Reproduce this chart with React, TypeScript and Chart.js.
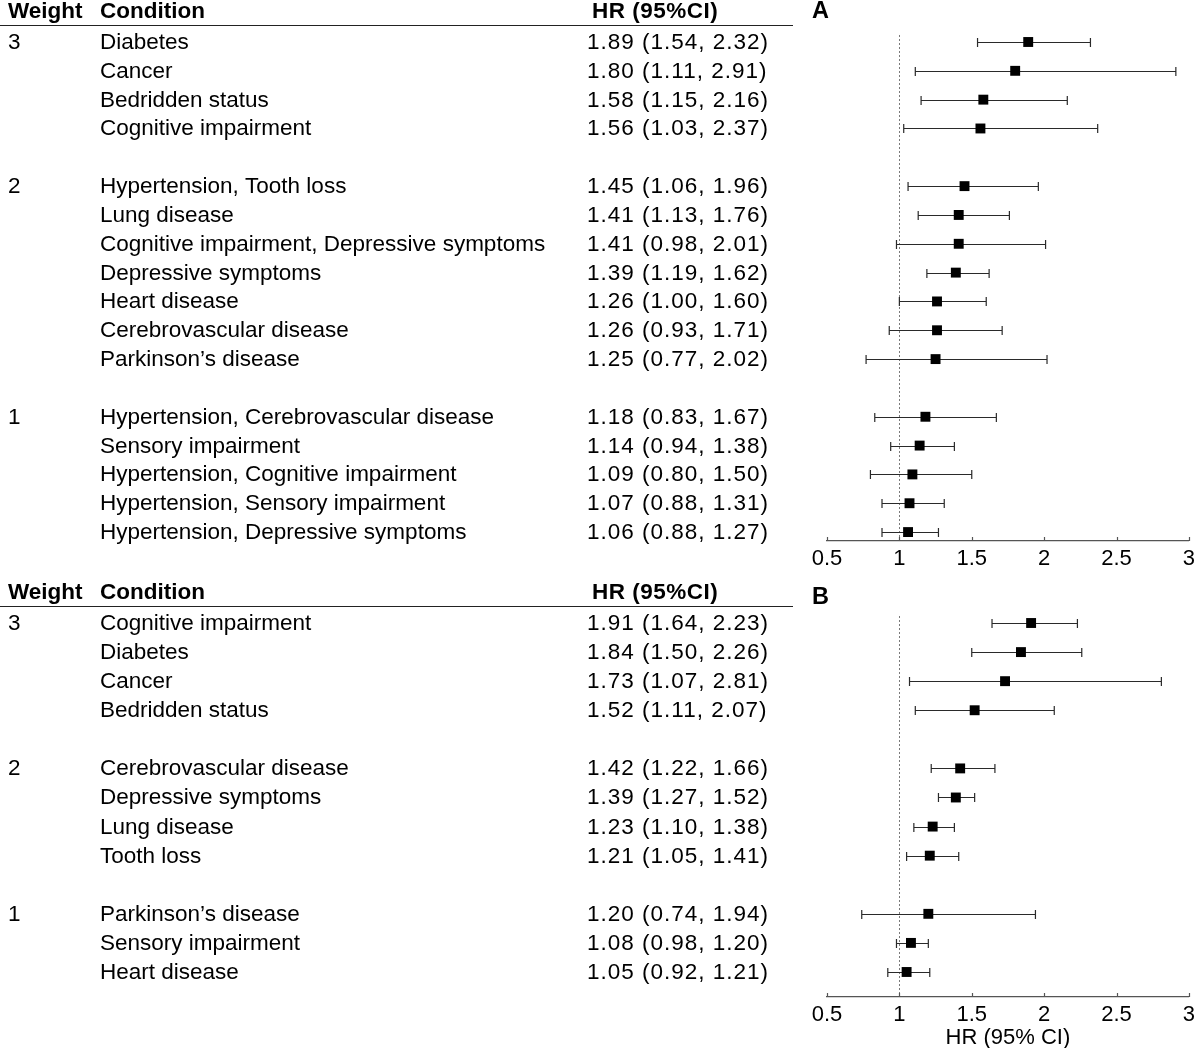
import React, { useEffect, useRef } from "react";
import { Chart, registerables } from "chart.js";

Chart.register(...registerables);

// ---------- Panel A data ----------
const conditionsA = [
  "Diabetes",
  "Cancer",
  "Bedridden status",
  "Cognitive impairment",
  "Hypertension, Tooth loss",
  "Lung disease",
  "Cognitive impairment, Depressive symptoms",
  "Depressive symptoms",
  "Heart disease",
  "Cerebrovascular disease",
  "Parkinson’s disease",
  "Hypertension, Cerebrovascular disease",
  "Sensory impairment",
  "Hypertension, Cognitive impairment",
  "Hypertension, Sensory impairment",
  "Hypertension, Depressive symptoms",
];
const weightsA = [3, 3, 3, 3, 2, 2, 2, 2, 2, 2, 2, 1, 1, 1, 1, 1];
const hrA = [1.89, 1.8, 1.58, 1.56, 1.45, 1.41, 1.41, 1.39, 1.26, 1.26, 1.25, 1.18, 1.14, 1.09, 1.07, 1.06];
const lowA = [1.54, 1.11, 1.15, 1.03, 1.06, 1.13, 0.98, 1.19, 1.0, 0.93, 0.77, 0.83, 0.94, 0.8, 0.88, 0.88];
const highA = [2.32, 2.91, 2.16, 2.37, 1.96, 1.76, 2.01, 1.62, 1.6, 1.71, 2.02, 1.67, 1.38, 1.5, 1.31, 1.27];

// ---------- Panel B data ----------
const conditionsB = [
  "Cognitive impairment",
  "Diabetes",
  "Cancer",
  "Bedridden status",
  "Cerebrovascular disease",
  "Depressive symptoms",
  "Lung disease",
  "Tooth loss",
  "Parkinson’s disease",
  "Sensory impairment",
  "Heart disease",
];
const weightsB = [3, 3, 3, 3, 2, 2, 2, 2, 1, 1, 1];
const hrB = [1.91, 1.84, 1.73, 1.52, 1.42, 1.39, 1.23, 1.21, 1.2, 1.08, 1.05];
const lowB = [1.64, 1.5, 1.07, 1.11, 1.22, 1.27, 1.1, 1.05, 0.74, 0.98, 0.92];
const highB = [2.23, 2.26, 2.81, 2.07, 1.66, 1.52, 1.38, 1.41, 1.94, 1.2, 1.21];

// ---------- shared ----------
const xTickValues = [0.5, 1, 1.5, 2, 2.5, 3];
const headerLabels = ["Weight", "Condition", "HR (95%CI)"];
const axisTitleB = "HR (95% CI)";

const FONT = "'Liberation Sans', Arial, Helvetica, sans-serif";
const FS = 22.5;
const TICK_FS = 22;

function slotsFor(weights: number[]): number[] {
  let slot = 0;
  return weights.map((w, i) => {
    if (i > 0 && w !== weights[i - 1]) slot += 1;
    return slot++;
  });
}

const fmt = (v: number) => v.toFixed(2);

type PanelCfg = {
  letter: string;
  letterDy: number;
  conditions: string[];
  weights: number[];
  hr: number[];
  low: number[];
  high: number[];
  yMin: number;
  yMax: number;
  padTop: number;
  axisHeight: number;
  height: number;
  top: number;
  title?: string;
};

function makePlugin(cfg: PanelCfg, slots: number[]) {
  return {
    id: "forestTable",
    beforeDatasetsDraw(chart: any) {
      const { ctx, chartArea } = chart;
      const x = chart.scales.x;
      const y = chart.scales.y;
      ctx.save();
      // reference line at HR = 1
      const x1 = Math.round(x.getPixelForValue(1)) + 0.5;
      ctx.strokeStyle = "#7a7a7a";
      ctx.lineWidth = 1;
      ctx.setLineDash([2, 2]);
      ctx.beginPath();
      ctx.moveTo(x1, y.getPixelForValue(slots[0]) - 7);
      ctx.lineTo(x1, chartArea.bottom);
      ctx.stroke();
      ctx.setLineDash([]);
      // confidence intervals
      ctx.strokeStyle = "#2a2a2a";
      ctx.lineWidth = 1.2;
      cfg.low.forEach((lo, i) => {
        const yy = Math.round(y.getPixelForValue(slots[i])) + 0.5;
        const xl = x.getPixelForValue(lo);
        const xh = x.getPixelForValue(cfg.high[i]);
        ctx.beginPath();
        ctx.moveTo(xl, yy);
        ctx.lineTo(xh, yy);
        ctx.moveTo(xl, yy - 4.5);
        ctx.lineTo(xl, yy + 4.5);
        ctx.moveTo(xh, yy - 4.5);
        ctx.lineTo(xh, yy + 4.5);
        ctx.stroke();
      });
      ctx.restore();
    },
    afterDraw(chart: any) {
      const { ctx, chartArea } = chart;
      const x = chart.scales.x;
      const y = chart.scales.y;
      ctx.save();
      ctx.fillStyle = "#000";
      ctx.textBaseline = "alphabetic";
      ctx.textAlign = "left";
      const y0 = y.getPixelForValue(slots[0]);
      // header
      ctx.font = `bold ${FS}px ${FONT}`;
      const hb = y0 - 24;
      ctx.fillText(headerLabels[0], 8, hb);
      ctx.fillText(headerLabels[1], 100, hb);
      (ctx as any).letterSpacing = "0.5px";
      ctx.fillText(headerLabels[2], 592, hb);
      (ctx as any).letterSpacing = "0px";
      ctx.font = `bold ${FS + 1}px ${FONT}`;
      ctx.fillText(cfg.letter, 812, hb + cfg.letterDy);
      // header rule
      ctx.strokeStyle = "#222";
      ctx.lineWidth = 1.2;
      ctx.beginPath();
      ctx.moveTo(0, Math.round(y0 - 17) + 0.5);
      ctx.lineTo(793, Math.round(y0 - 17) + 0.5);
      ctx.stroke();
      // rows
      ctx.font = `${FS}px ${FONT}`;
      cfg.conditions.forEach((c, i) => {
        const by = y.getPixelForValue(slots[i]) + 7;
        if (i === 0 || cfg.weights[i] !== cfg.weights[i - 1]) {
          ctx.fillText(String(cfg.weights[i]), 8, by);
        }
        ctx.fillText(c, 100, by);
        (ctx as any).letterSpacing = "1px";
        ctx.fillText(`${fmt(cfg.hr[i])} (${fmt(cfg.low[i])}, ${fmt(cfg.high[i])})`, 587, by);
        (ctx as any).letterSpacing = "0px";
      });
      // upward tick marks on the x axis
      ctx.strokeStyle = "#555";
      ctx.lineWidth = 1.2;
      x.ticks.forEach((t: any) => {
        const px = Math.round(x.getPixelForValue(t.value)) + 0.5;
        ctx.beginPath();
        ctx.moveTo(px, chartArea.bottom);
        ctx.lineTo(px, chartArea.bottom - 4);
        ctx.stroke();
      });
      ctx.restore();
    },
  };
}

function Panel({ cfg }: { cfg: PanelCfg }) {
  const ref = useRef<HTMLCanvasElement | null>(null);
  useEffect(() => {
    if (!ref.current) return;
    const slots = slotsFor(cfg.weights);
    const chart = new Chart(ref.current, {
      type: "scatter",
      data: {
        datasets: [
          {
            data: cfg.hr.map((v, i) => ({ x: v, y: slots[i] })),
            pointStyle: "rect",
            pointRadius: 7,
            pointHoverRadius: 7,
            backgroundColor: "#000",
            borderColor: "#000",
            borderWidth: 0,
          },
        ],
      },
      options: {
        responsive: false,
        animation: false,
        devicePixelRatio: 1,
        layout: { padding: { left: 827, right: 9, top: cfg.padTop, bottom: 0 } },
        plugins: { legend: { display: false }, tooltip: { enabled: false } },
        scales: {
          x: {
            type: "linear",
            min: 0.5,
            max: 3,
            afterBuildTicks: (scale: any) => {
              scale.ticks = xTickValues.map((v) => ({ value: v }));
            },
            afterFit: (scale: any) => {
              scale.height = cfg.axisHeight;
            },
            grid: { display: false, drawTicks: false },
            border: { display: true, color: "#555", width: 1.2 },
            ticks: {
              padding: 5,
              color: "#000",
              font: { family: FONT, size: TICK_FS },
              callback: (v: any) => String(v),
            },
            title: cfg.title
              ? {
                  display: true,
                  text: cfg.title,
                  color: "#000",
                  font: { family: FONT, size: TICK_FS },
                  padding: { top: 0, bottom: -3 },
                }
              : { display: false },
          },
          y: {
            type: "linear",
            reverse: true,
            min: cfg.yMin,
            max: cfg.yMax,
            display: false,
          },
        },
      },
      plugins: [makePlugin(cfg, slots)],
    } as any);
    return () => chart.destroy();
  }, [cfg]);
  return (
    <canvas
      ref={ref}
      width={1200}
      height={cfg.height}
      style={{ position: "absolute", left: 0, top: cfg.top, width: 1200, height: cfg.height }}
    />
  );
}

const panelA: PanelCfg = {
  letter: "A",
  letterDy: 0,
  conditions: conditionsA,
  weights: weightsA,
  hr: hrA,
  low: lowA,
  high: highA,
  yMin: -0.416,
  yMax: 17.31,
  padTop: 30,
  axisHeight: 34,
  height: 575,
  top: 0,
};

const panelB: PanelCfg = {
  letter: "B",
  letterDy: 5,
  conditions: conditionsB,
  weights: weightsB,
  hr: hrB,
  low: lowB,
  high: highB,
  yMin: -0.344,
  yMax: 12.86,
  padTop: 38,
  axisHeight: 51,
  height: 473,
  top: 575,
  title: axisTitleB,
};

export default function App() {
  return (
    <div style={{ position: "absolute", left: 0, top: 0, width: 1200, height: 1048, background: "#fff", overflow: "hidden" }}>
      <Panel cfg={panelA} />
      <Panel cfg={panelB} />
    </div>
  );
}
